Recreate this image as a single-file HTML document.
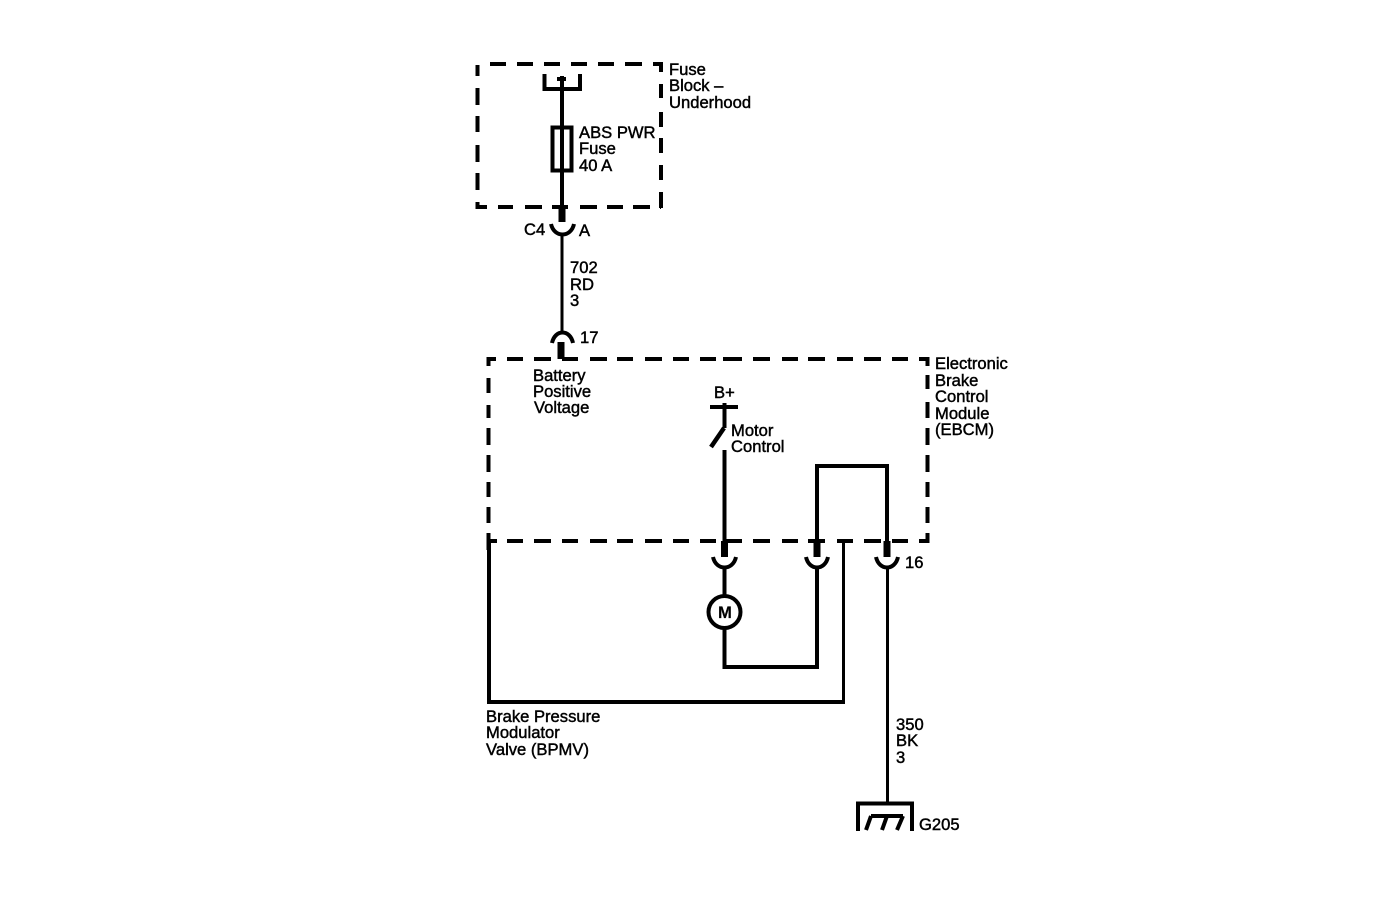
<!DOCTYPE html>
<html>
<head>
<meta charset="utf-8">
<style>
html,body{margin:0;padding:0;background:#fff;width:1392px;height:908px;overflow:hidden}
svg{display:block}
text{font-family:"Liberation Sans",Arial,sans-serif;font-size:16.6px;fill:#000;stroke:#000;stroke-width:.45px}
.w{fill:none;stroke:#000;stroke-width:4}
.t{fill:none;stroke:#000;stroke-width:3}
.b{fill:none;stroke:#000;stroke-width:7}
.d{fill:none;stroke:#000;stroke-width:4}
</style>
</head>
<body>
<svg width="1392" height="908" viewBox="0 0 1392 908" xmlns="http://www.w3.org/2000/svg">
<!-- Fuse block dashes -->
<path class="d" d="M490 64H506M517 64H533M544 64H560M571 64H587M598 64H614M625 64H642M653 64H661V72"/>
<path class="d" d="M477.500 65V76M477.500 88V105M477.500 116V132M477.500 145V162M477.500 173V190M477.500 202V207H487"/>
<path class="d" d="M498 207H513M525 207H542M552 207H568M580 207H597M607 207H623M633 207H650M660 207H661"/>
<path class="d" d="M661 84V98M661 112V127M661 138V153M661 165V180M661 192V208"/>
<!-- Feed -->
<path class="w" d="M544.500 74V89H580V74"/>
<path class="w" d="M557 79H566"/>
<path class="w" d="M562 76V207"/>
<rect class="w" x="552.500" y="127.500" width="19" height="43"/>
<path class="b" d="M562 205V222"/>
<path class="w" d="M551 224C554 238 571 238 574 224"/>
<path class="t" d="M562 234V333"/>
<path class="w" d="M552 343C555 329 570 329 573 343"/>
<path class="b" d="M561 342V359"/>
<!-- EBCM dashes -->
<path class="d" d="M496 359H488.500V366M507 359H523M534 359H551M562 359H578M590 359H607M617 359H633M645 359H662M673 359H689M700 359H716M723 359H742M753 359H770M782 359H798M808 359H825M837 359H853M864 359H881M892 359H908M919 359H927.500V366"/>
<path class="d" d="M488.500 378V393M488.500 405V418M488.500 428V445M488.500 455V472M488.500 482V497M488.500 507V523M488.500 533V550"/>
<path class="d" d="M488 541H497M507 541H523M534 541H551M562 541H578M590 541H607M617 541H633M645 541H662M673 541H689M700 541H716M723 541H742M753 541H770M782 541H798M808 541H825M837 541H853M864 541H881M892 541H908M919 541H927.500V533"/>
<path class="d" d="M927.500 375V389M927.500 402V418M927.500 428V445M927.500 455V472M927.500 482V497M927.500 507V523"/>
<!-- Motor control -->
<path class="w" d="M710 407H738"/>
<path class="w" d="M724.500 403V428"/>
<path d="M724 428L711 447" style="fill:none;stroke:#000;stroke-width:4.500"/>
<path class="w" d="M724.500 450V542"/>
<path class="b" d="M724.500 541V557"/>
<path class="w" d="M713 557C716 571 733 571 736 557"/>
<path class="w" d="M724.500 566V596"/>
<circle class="w" cx="724.500" cy="612" r="16"/>
<path class="w" d="M724.500 628V667H817V566"/>
<!-- Middle loop -->
<path class="w" d="M817 541V466H887V541"/>
<path class="b" d="M817 541V557M887 541V557"/>
<path class="w" d="M806 557C809 571 825 571 828 557M876 557C879 571 895 571 898 557"/>
<path class="t" d="M887.500 567V803"/>
<!-- BPMV -->
<path class="w" d="M489 541V702H843"/>
<path class="t" d="M843.500 541V704"/>
<!-- Ground -->
<path class="w" d="M858 831V803.500H912V831"/>
<path class="w" d="M871 816H903M871 816L866 830M887 816L882 830M903 816L897 830"/>
<!-- Labels -->
<text x="669" y="75">Fuse</text>
<text x="669" y="91">Block –</text>
<text x="669" y="108">Underhood</text>
<text x="579" y="138">ABS PWR</text>
<text x="579" y="154">Fuse</text>
<text x="579" y="171">40 A</text>
<text x="524" y="235">C4</text>
<text x="579" y="236">A</text>
<text x="570" y="273">702</text>
<text x="570" y="290">RD</text>
<text x="570" y="306">3</text>
<text x="580" y="343">17</text>
<text x="533" y="381">Battery</text>
<text x="533" y="397">Positive</text>
<text x="534" y="413">Voltage</text>
<text x="714" y="398">B+</text>
<text x="731" y="436">Motor</text>
<text x="731" y="452">Control</text>
<text x="935" y="369">Electronic</text>
<text x="935" y="386">Brake</text>
<text x="935" y="402">Control</text>
<text x="935" y="419">Module</text>
<text x="935" y="435">(EBCM)</text>
<text x="905" y="568">16</text>
<text x="718" y="618" style="font-size:16.600px;font-weight:bold;stroke-width:.2px">M</text>
<text x="486" y="722">Brake Pressure</text>
<text x="486" y="738">Modulator</text>
<text x="486" y="755">Valve (BPMV)</text>
<text x="896" y="730">350</text>
<text x="896" y="746">BK</text>
<text x="896" y="763">3</text>
<text x="919" y="830">G205</text>
</svg>
</body>
</html>
